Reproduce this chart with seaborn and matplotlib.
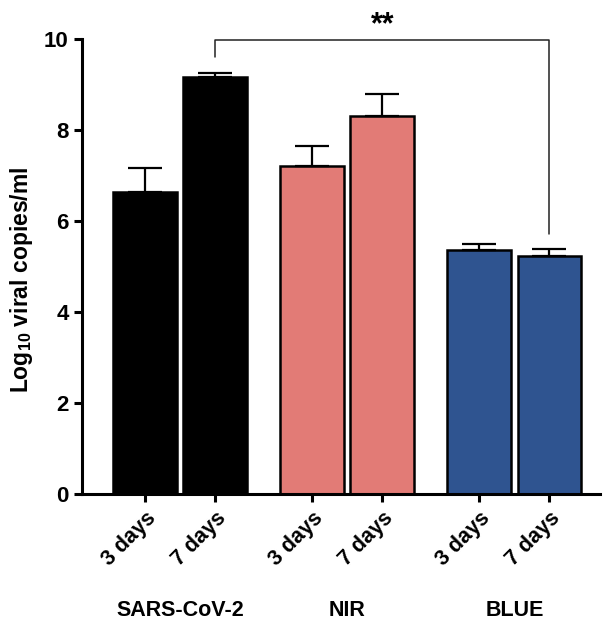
import numpy as np
import pandas as pd
import seaborn as sns
import matplotlib.pyplot as plt
import matplotlib.transforms as mtransforms

groups = ['SARS-CoV-2', 'NIR', 'BLUE']
days = ['3 days', '7 days']
means_3d = [6.64, 7.21, 5.37]
means_7d = [9.17, 8.31, 5.23]
err_3d = [0.53, 0.44, 0.13]
err_7d = [0.09, 0.49, 0.15]
group_colors = ['#000000', '#E27B76', '#2F5490']

sns.set_style('ticks')
plt.rcParams['font.family'] = ['Liberation Sans', 'DejaVu Sans']
plt.rcParams['font.weight'] = 'bold'
plt.rcParams['text.color'] = 'black'
plt.rcParams['axes.labelcolor'] = 'black'
plt.rcParams['xtick.color'] = 'black'
plt.rcParams['ytick.color'] = 'black'
plt.rcParams['axes.edgecolor'] = 'black'
plt.rcParams['mathtext.fontset'] = 'custom'
plt.rcParams['mathtext.rm'] = 'Liberation Sans:bold'
plt.rcParams['mathtext.bf'] = 'Liberation Sans:bold'

df = pd.DataFrame({
    'group': groups * 2,
    'day': [days[0]] * 3 + [days[1]] * 3,
    'value': means_3d + means_7d,
    'err': err_3d + err_7d,
})

fig = plt.figure(figsize=(6.14, 6.22), dpi=100)
ax = fig.add_axes([0.1336, 0.2058, 0.843, 0.7312])

sns.barplot(data=df, x='group', y='value', hue='day', order=groups, hue_order=days,
            errorbar=None, width=0.84, gap=0.09, edgecolor='black', linewidth=1.8,
            legend=False, ax=ax)

# recolor by group, collect bar centers
centers = []
labels = []
for d, cont in zip(days, ax.containers):
    sub = df[df['day'] == d].set_index('group').loc[groups]
    xs = []
    for bar, c in zip(cont, group_colors):
        bar.set_facecolor(c)
        xs.append(bar.get_x() + bar.get_width() / 2)
    ax.errorbar(xs, sub['value'], yerr=[np.zeros(len(xs)), sub['err']], fmt='none',
                ecolor='black', elinewidth=1.6, capsize=12, capthick=1.6, zorder=1)
    centers += xs
    labels += [d] * len(xs)

order = np.argsort(centers)
xt = np.array(centers)[order]
ax.set_xticks(xt)
ax.set_xticklabels(np.array(labels)[order], rotation=45, ha='right',
                   rotation_mode='anchor', fontsize=15.5, fontweight='bold')

ax.set_xlim(-0.587, 2.51)
ax.set_ylim(0, 10)
ax.set_yticks([0, 2, 4, 6, 8, 10])
ax.tick_params(axis='y', labelsize=16, width=2.2, length=6)
ax.tick_params(axis='x', width=2.2, length=6, pad=4)
for lab in ax.get_yticklabels():
    lab.set_fontweight('bold')
ax.set_xlabel('')
ax.set_ylabel(r'Log$_{\mathbf{10}}$ viral copies/ml', fontsize=16.5, fontweight='bold')
ax.yaxis.set_label_coords(-0.09, 0.47)
sns.despine(ax=ax)
for s in ['left', 'bottom']:
    ax.spines[s].set_linewidth(2.2)

# group labels
trans = mtransforms.blended_transform_factory(ax.transData, fig.transFigure)
for i, g in enumerate(groups):
    ax.text(i, 0.019, g, transform=trans, ha='center', va='center',
            fontsize=15.5, fontweight='bold')

# significance bracket between SARS-CoV-2 7 days and BLUE 7 days
x1 = centers[3]
x2 = centers[5]
ax.plot([x1, x1, x2, x2], [9.61, 9.98, 9.98, 5.71], color='#222222', lw=1.1,
        clip_on=False)
ax.text((x1 + x2) / 2, 9.98, '**', ha='center', va='bottom', fontsize=22,
        fontweight='bold', clip_on=False)

fig.savefig('out.png', dpi=100)
